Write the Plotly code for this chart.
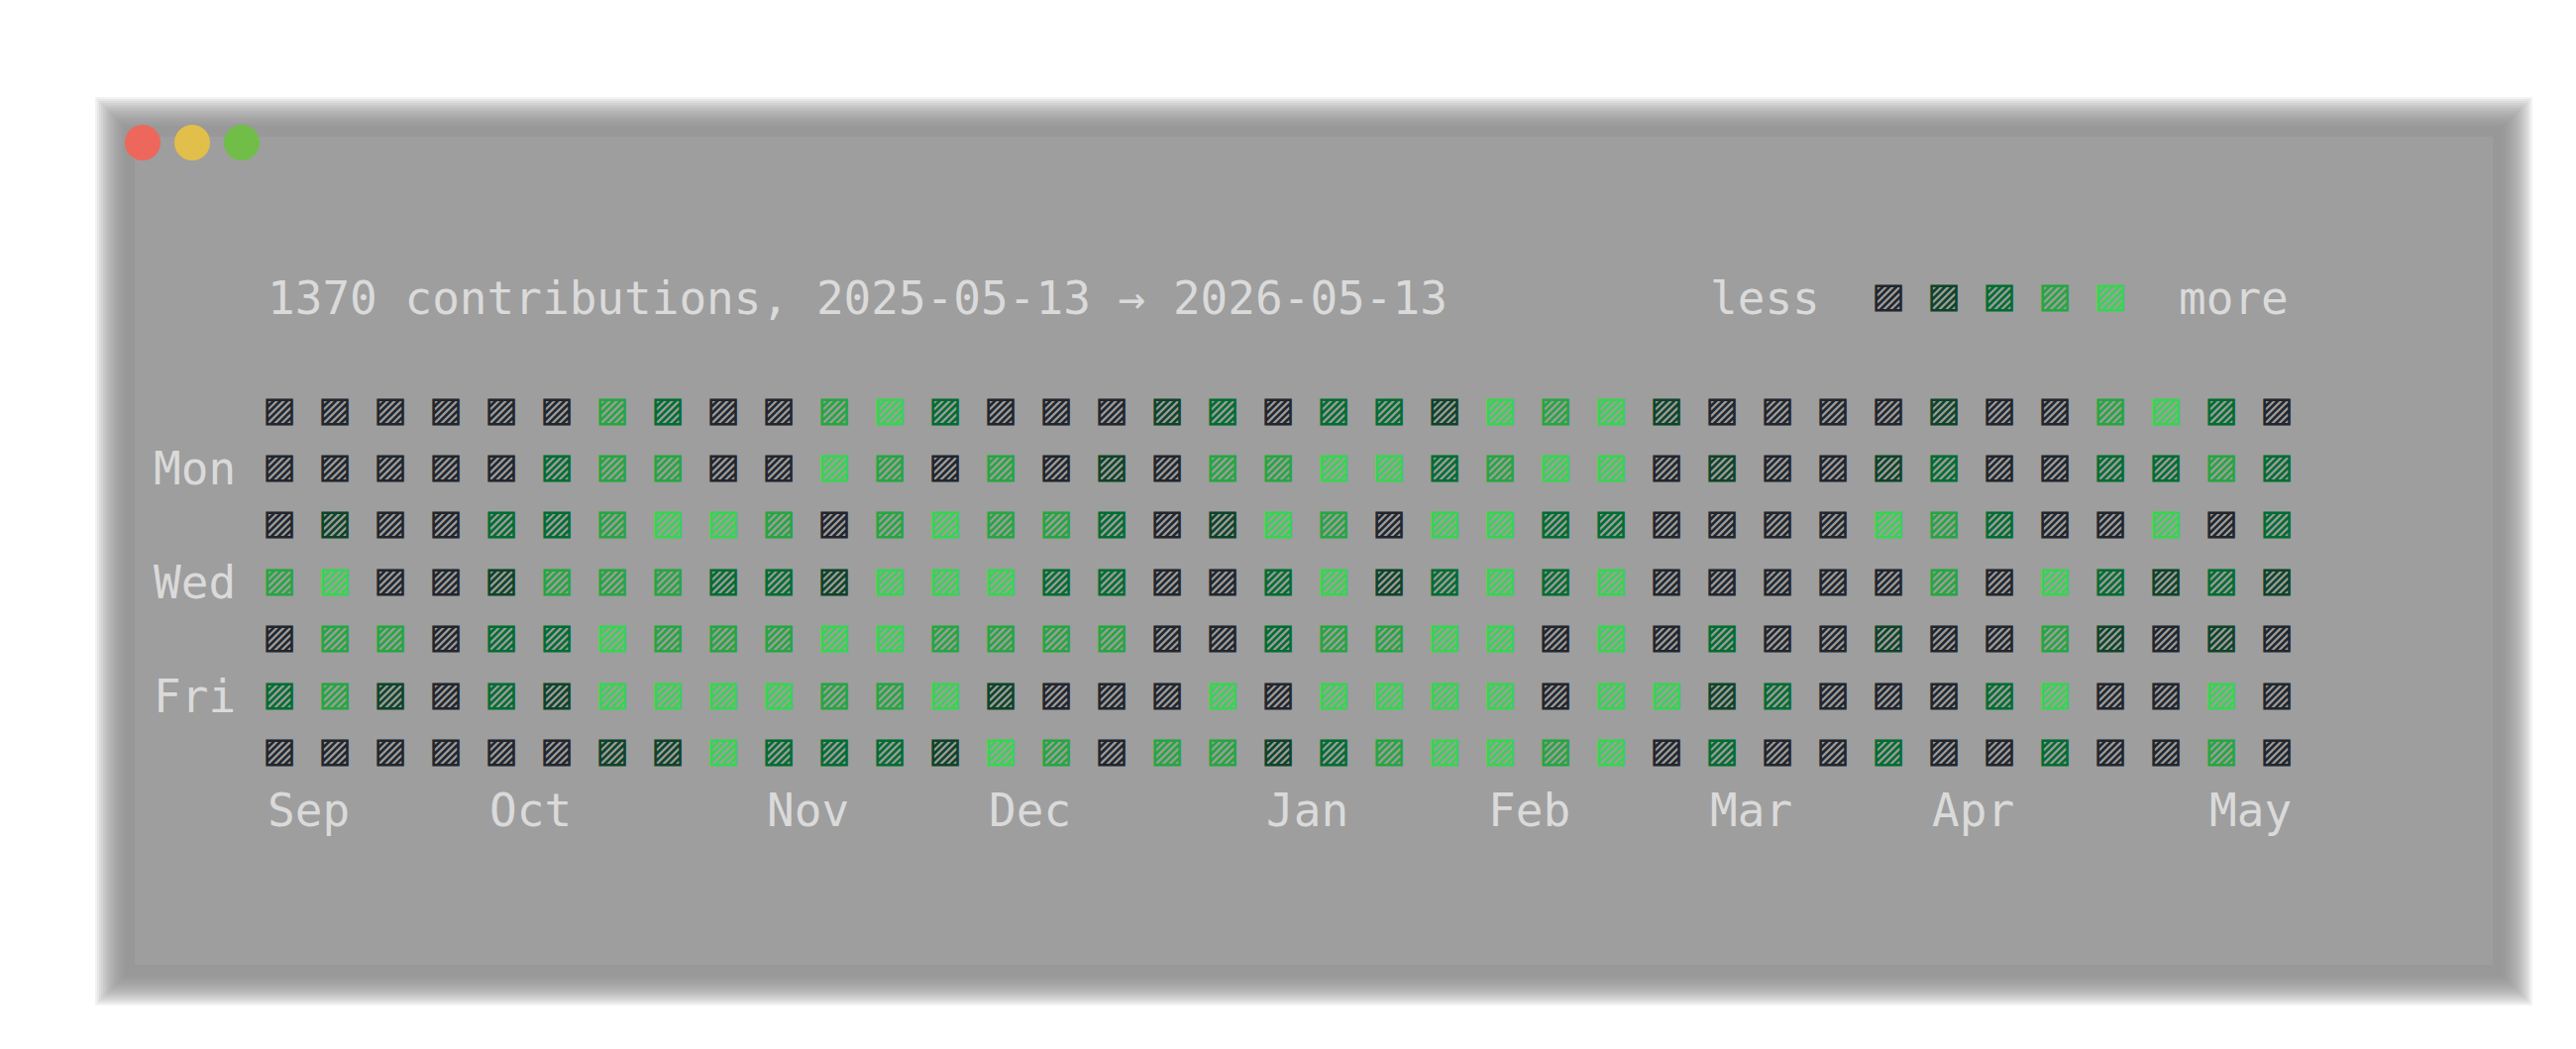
import plotly.graph_objects as go

# contribution levels 0-4, one list per weekday row (Sun..Sat), 37 weeks
row_sun = [0,0,0,0,0,0,3,2,0,0,3,4,2,0,0,0,1, 2,0,2,2,1,4,3,4,1,0,0,0,0,1,0,0,3,4,2,0]
row_mon = [0,0,0,0,0,2,3,3,0,0,4,3,0,3,0,1,0, 3,3,4,4,2,3,4,4,0,1,0,0,1,2,0,0,2,2,3,2]
row_tue = [0,1,0,0,2,2,3,4,4,3,0,3,4,3,3,2,0, 1,4,3,0,4,4,2,2,0,0,0,0,4,3,2,0,0,4,0,2]
row_wed = [3,4,0,0,1,3,3,3,2,2,1,4,4,4,2,2,0, 0,2,4,1,2,4,2,4,0,0,0,0,0,3,0,4,2,1,2,1]
row_thu = [0,3,3,0,2,2,4,3,3,3,4,4,3,3,3,3,0, 0,2,3,3,4,4,0,4,0,2,0,0,1,0,0,3,1,0,1,0]
row_fri = [2,3,1,0,2,1,4,4,4,4,3,3,4,1,0,0,0, 4,0,4,4,4,4,0,4,4,1,2,0,0,0,2,4,0,0,4,0]
row_sat = [0,0,0,0,0,0,1,1,4,2,2,2,1,4,3,0,3, 3,1,2,3,4,4,3,4,0,2,0,0,2,0,0,2,0,0,3,0]
rows = [row_sun, row_mon, row_tue, row_wed, row_thu, row_fri, row_sat]

day_labels = ["", "Mon", "", "Wed", "", "Fri", ""]
month_labels = ["Sep", "Oct", "Nov", "Dec", "Jan", "Feb", "Mar", "Apr", "May"]
month_weeks = [0, 4, 9, 13, 18, 22, 26, 30, 35]
level_colors = ["#22262d", "#0e4429", "#006d32", "#26a641", "#39d353"]
title = "1370 contributions, 2025-05-13 → 2026-05-13"

FONT = "DejaVu Sans Mono"
FS = 46
TXT = "#dadada"
W, H = 2600, 1059
fig = go.Figure()

# soft blurred window edge
n = 16
for i in range(n):
    d = 32 - i * 2
    fig.add_shape(type="rect", xref="paper", yref="paper", layer="below",
                  x0=(120 - d) / W, x1=(2516 + d) / W, y0=1 - (975 + d) / H, y1=1 - (122 - d) / H,
                  fillcolor="rgba(140,140,140,0.11)", line_width=0)
fig.add_shape(type="rect", xref="paper", yref="paper", layer="below",
              x0=128 / W, x1=2508 / W, y0=1 - 966 / H, y1=1 - 130 / H,
              fillcolor="#9e9e9e", line_width=0)
for cx, col in zip([136, 186, 236], ["#ee675c", "#e2bf4a", "#70be48"]):
    fig.add_shape(type="circle", xref="paper", yref="paper",
                  x0=(cx - 18) / W, x1=(cx + 18) / W, y0=1 - 154 / H, y1=1 - 118 / H,
                  fillcolor=col, line_width=0)

# grid cells
for lvl, color in enumerate(level_colors):
    xs, ys = [], []
    for d, r in enumerate(rows):
        for w, v in enumerate(r):
            if v == lvl:
                xs.append(w)
                ys.append(d)
    fig.add_trace(go.Scatter(x=xs, y=ys, mode="text", text=["▨"] * len(xs),
                             textfont=dict(family=FONT, size=FS, color=color),
                             hoverinfo="skip", showlegend=False))

# legend squares
fig.add_trace(go.Scatter(x=[29, 30, 31, 32, 33], y=[-2] * 5, mode="text", text=["▨"] * 5,
                         textfont=dict(family=FONT, size=FS, color=level_colors),
                         hoverinfo="skip", showlegend=False))

def label(x, y, t, anchor):
    fig.add_annotation(x=x, y=y, text=t, showarrow=False, xanchor=anchor, yanchor="middle",
                       font=dict(family=FONT, size=FS, color=TXT))

label(-0.25, -2, title, "left")
label(25.75, -2, "less", "left")
label(36.25, -2, "more", "right")
for d, t in enumerate(day_labels):
    if t:
        label(-0.75, d, t, "right")
for m, w in zip(month_labels, month_weeks):
    label(w - 0.25, 7, m, "left")

fig.update_layout(
    width=W, height=H, margin=dict(l=0, r=0, t=0, b=0),
    paper_bgcolor="white", plot_bgcolor="rgba(0,0,0,0)",
    xaxis=dict(range=[-274 / 56, (W - 274) / 56], visible=False, fixedrange=True),
    yaxis=dict(range=[(H - 408) / 57.4, -408 / 57.4], visible=False, fixedrange=True),
)
fig.write_html("out.html")
